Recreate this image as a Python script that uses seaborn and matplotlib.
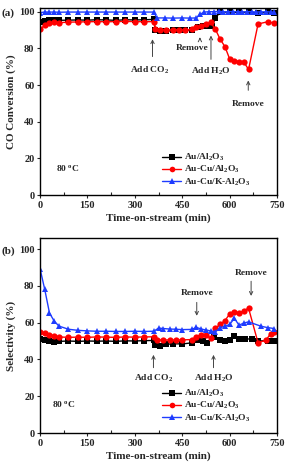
import matplotlib
matplotlib.use("Agg")
import matplotlib.pyplot as plt
import seaborn as sns
import pandas as pd

# --- dados ---
t_au_a = [0, 15, 30, 45, 60, 90, 120, 150, 180, 210, 240, 270, 300, 330, 360, 365, 380, 400, 420,
          440, 460, 480, 500, 515, 530, 545, 555, 570, 600, 630, 660, 690, 720, 740]
au_a = [94.5, 95, 95.3, 95.4, 95.3, 95.4, 95.5, 95.4, 95.6, 95.5, 95.3, 95.6, 95.5, 95.6, 95.8, 89.8,
        89.6, 89.3, 89.8, 90, 89.8, 90, 91.5, 92, 92.3, 92.3, 96.5, 99.8, 99.8, 99.6, 99.8, 99.3, 99.6, 99.5]

t_cu_a = [0, 15, 30, 45, 60, 90, 120, 150, 180, 210, 240, 270, 300, 330, 360, 365, 380, 400, 420,
          440, 460, 480, 495, 510, 525, 540, 555, 570, 585, 600, 615, 630, 645, 660, 690, 720, 740]
cu_a = [90.3, 92.7, 93.8, 94.3, 94, 94.3, 94.4, 94.5, 94.6, 94.5, 94.6, 94.7, 94.6, 94.5, 94.6, 90.3,
        90.2, 90, 90.1, 90.2, 90, 90.3, 91.8, 92.3, 93.4, 94.2, 90.4, 85, 81, 74.3, 73.2, 72.8, 72.5,
        68.5, 93.3, 94.5, 93.8]

t_k_a = [0, 15, 30, 45, 60, 90, 120, 150, 180, 210, 240, 270, 300, 330, 360, 370, 395, 420, 450,
         475, 495, 505, 520, 535, 550, 565, 580, 595, 610, 625, 640, 655, 670, 685, 700, 715, 730, 740]
k_a = [99.5, 99.8, 99.8, 99.8, 99.7, 99.8, 99.8, 99.8, 99.8, 99.8, 99.8, 99.8, 99.8, 99.8, 99.8,
       96.6, 96.6, 96.5, 96.6, 96.5, 96.6, 98.5, 99.8, 100, 100, 100.2, 100, 100, 100.1, 100, 99.9,
       100, 100, 99.8, 99.9, 100, 99.8, 99.6]

t_au_b = [0, 15, 30, 45, 60, 90, 120, 150, 180, 210, 240, 270, 300, 330, 360, 365, 380, 400, 420,
          450, 480, 500, 515, 530, 550, 570, 585, 600, 615, 630, 650, 670, 690, 720, 740]
au_b = [51, 50.5, 50, 49.5, 49.8, 50, 49.8, 50, 49.9, 50, 49.8, 50.1, 50, 50.2, 50.3, 47.8, 47.5,
        48.2, 48.5, 48.4, 49, 50.5, 50.2, 49, 52, 50.5, 50, 50.5, 52.8, 51, 51.2, 51, 50, 50.2, 50]

t_cu_b = [0, 15, 30, 45, 60, 90, 120, 150, 180, 210, 240, 270, 300, 330, 360, 370, 390, 410, 430,
          450, 480, 495, 510, 525, 540, 555, 570, 585, 600, 615, 630, 645, 660, 690, 715, 730, 740]
cu_b = [55, 54.2, 53.3, 52.6, 52.2, 52, 52.1, 52, 52.2, 52.1, 52, 52.2, 52.1, 52.2, 52.3, 50.7, 50.5,
        50.6, 50.5, 50.6, 50.8, 52.2, 53.5, 53.2, 51.5, 57, 59, 61, 64.7, 65.6, 65, 66.5, 67.8, 49,
        50.5, 54, 55]

t_k_b = [0, 15, 30, 45, 60, 90, 120, 150, 180, 210, 240, 270, 300, 330, 360, 375, 390, 410, 430,
         450, 480, 495, 510, 525, 540, 555, 570, 585, 600, 615, 630, 645, 660, 700, 720, 740]
k_b = [89.4, 78, 65.2, 60.8, 58.1, 56.4, 55.8, 55.5, 55.3, 55.3, 55.2, 55.2, 55.3, 55.2, 55.3, 57,
       56.8, 56.5, 56.4, 56.2, 56.3, 57.4, 56.5, 56, 55.5, 55, 57.3, 58, 59, 62.3, 58.6, 59.8, 60.4,
       58, 57.3, 56.8]

rotulos = ["Au/Al$_2$O$_3$", "Au-Cu/Al$_2$O$_3$", "Au-Cu/K-Al$_2$O$_3$"]
cores = ["#000000", "#ff0000", "#1e3cff"]
marcadores = ["s", "o", "^"]

sns.set_theme(style="ticks")
plt.rcParams["font.family"] = ["Liberation Serif", "DejaVu Serif"]
plt.rcParams["font.weight"] = "bold"
plt.rcParams["axes.labelweight"] = "bold"
plt.rcParams["mathtext.fontset"] = "custom"
plt.rcParams["mathtext.rm"] = "Liberation Serif:bold"
plt.rcParams["mathtext.it"] = "Liberation Serif:bold"
plt.rcParams["mathtext.bf"] = "Liberation Serif:bold"

fig = plt.figure(figsize=(2.86, 4.67), dpi=100)
ax1 = fig.add_axes([0.1399, 0.5824, 0.8287, 0.4004])
ax2 = fig.add_axes([0.1399, 0.0728, 0.8287, 0.4176])

series_a = [(t_au_a, au_a), (t_cu_a, cu_a), (t_k_a, k_a)]
series_b = [(t_au_b, au_b), (t_cu_b, cu_b), (t_k_b, k_b)]

for ax, series in [(ax1, series_a), (ax2, series_b)]:
    for (t, v), lab, cor, mk in zip(series, rotulos, cores, marcadores):
        df = pd.DataFrame({"t": t, "v": v})
        sns.lineplot(data=df, x="t", y="v", ax=ax, color=cor, marker=mk, markersize=4.5,
                     markeredgewidth=0, linewidth=1.0, label=lab)
    ax.set_xlim(0, 750)
    ax.set_xticks([0, 150, 300, 450, 600, 750])
    ax.set_xticks([75, 225, 375, 525, 675], minor=True)
    ax.set_xlabel("Time-on-stream (min)", fontsize=8, labelpad=3)
    ax.tick_params(axis="both", which="major", direction="out", length=2.5, width=0.8,
                   labelsize=7.5, pad=1.5)
    ax.tick_params(axis="x", which="minor", direction="in", length=2, width=0.8)
    for s in ax.spines.values():
        s.set_linewidth(1.0)
        s.set_color("black")
    ax.legend(loc="upper left", bbox_to_anchor=(0.5, 0.25), frameon=False, fontsize=6.8,
              handlelength=2.0, handletextpad=0.3, labelspacing=0.1, borderaxespad=0,
              markerscale=0.9)

ax1.set_ylim(0, 102)
ax1.set_yticks([0, 20, 40, 60, 80, 100])
ax1.set_ylabel("CO Conversion (%)", fontsize=8, labelpad=2)
ax2.set_ylim(0, 106)
ax2.set_yticks([0, 20, 40, 60, 80, 100])
ax2.set_ylabel("Selectivity (%)", fontsize=8, labelpad=2)

fig.text(0.005, 0.972, "(a)", fontsize=8, fontweight="bold", va="center")
fig.text(0.005, 0.463, "(b)", fontsize=8, fontweight="bold", va="center")

ax1.text(51, 14.8, "80 $^{\\mathrm{o}}$C", fontsize=6.8, va="center")
ax2.text(38, 15.8, "80 $^{\\mathrm{o}}$C", fontsize=6.8, va="center")

seta = dict(arrowstyle="->", color="#444444", lw=0.7, mutation_scale=6)
fs = 6.8
# painel a
ax1.annotate("", xy=(356, 86.5), xytext=(356, 74), arrowprops=seta)
ax1.text(348, 68, "Add CO$_2$", fontsize=fs, ha="center", va="center")
ax1.annotate("", xy=(506, 87.5), xytext=(506, 83.5), arrowprops=seta)
ax1.text(481, 80, "Remove", fontsize=fs, ha="center", va="center")
ax1.annotate("", xy=(541, 88.5), xytext=(541, 72.5), arrowprops=seta)
ax1.text(540, 67.6, "Add H$_2$O", fontsize=fs, ha="center", va="center")
ax1.annotate("", xy=(659, 64), xytext=(659, 55.6), arrowprops=seta)
ax1.text(659, 49.6, "Remove", fontsize=fs, ha="center", va="center")
# painel b
ax2.annotate("", xy=(359, 44), xytext=(359, 34), arrowprops=seta)
ax2.text(359, 29.5, "Add CO$_2$", fontsize=fs, ha="center", va="center")
ax2.annotate("", xy=(549, 44), xytext=(549, 34), arrowprops=seta)
ax2.text(549, 29.5, "Add H$_2$O", fontsize=fs, ha="center", va="center")
ax2.annotate("", xy=(496, 62.2), xytext=(496, 72.5), arrowprops=seta)
ax2.text(496, 76.2, "Remove", fontsize=fs, ha="center", va="center")
ax2.annotate("", xy=(668, 73), xytext=(668, 84), arrowprops=seta)
ax2.text(668, 87, "Remove", fontsize=fs, ha="center", va="center")

fig.savefig("out.png", dpi=100)
